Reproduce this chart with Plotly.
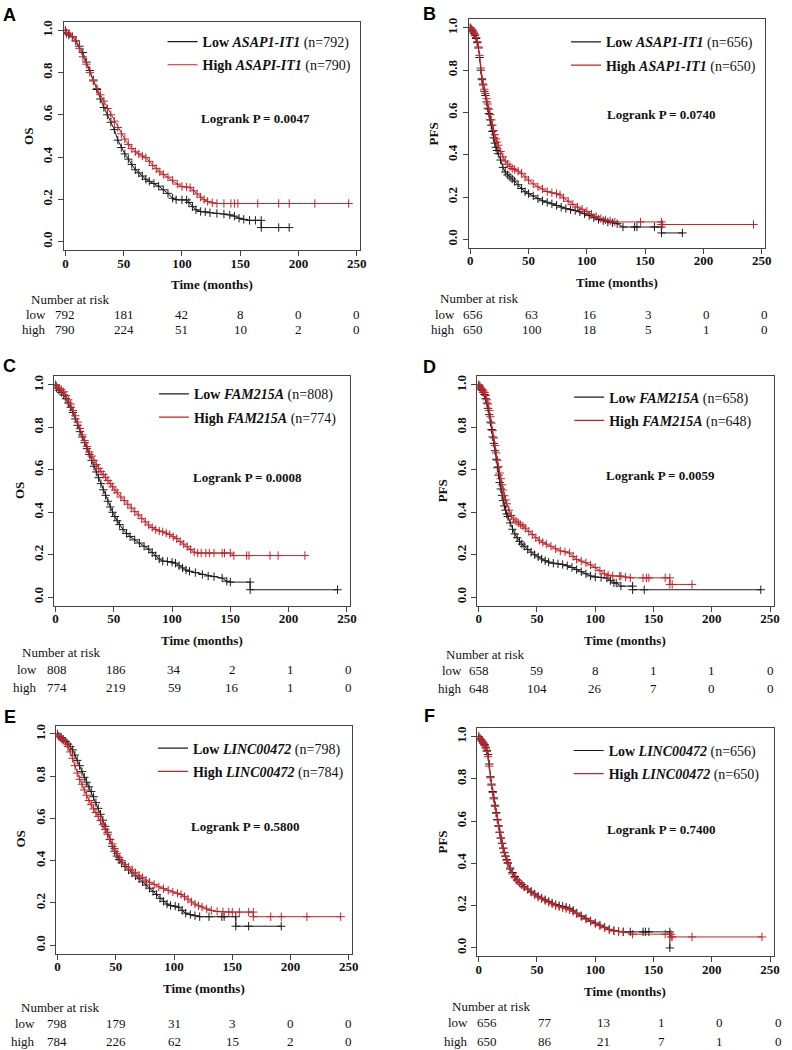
import plotly.graph_objects as go

W, H = 792, 1050

RISK_TIMES = [0, 50, 100, 150, 200, 250]
X_TICKS = [0, 50, 100, 150, 200, 250]
Y_TICKS = [0.0, 0.2, 0.4, 0.6, 0.8, 1.0]

# ---------------- Panel A (OS, ASAP1-IT1) ----------------
A_LOW_T = [0, 1, 3, 6, 9, 12, 15, 18, 21, 24, 27, 30, 33, 36, 39, 42, 45, 48, 51, 54, 57, 60, 63, 66, 69, 72, 76, 80,
           84, 88, 92, 95, 100, 104, 106, 109, 112, 116, 120, 124, 130, 136, 141, 145, 149, 153, 158, 163, 168, 168,
           183, 192]
A_LOW_S = [1.0, 0.985, 0.978, 0.97, 0.95, 0.925, 0.895, 0.85, 0.81, 0.765, 0.72, 0.675, 0.635, 0.60, 0.565, 0.53, 0.48,
           0.445, 0.415, 0.39, 0.365, 0.34, 0.325, 0.31, 0.295, 0.285, 0.275, 0.262, 0.245, 0.228, 0.205, 0.198, 0.197,
           0.197, 0.185, 0.165, 0.15, 0.142, 0.14, 0.136, 0.133, 0.13, 0.126, 0.12, 0.11, 0.105, 0.10, 0.10, 0.10,
           0.066, 0.066, 0.066]
A_HIGH_T = [0, 1, 3, 6, 9, 12, 15, 18, 21, 24, 27, 30, 33, 36, 39, 42, 45, 48, 51, 54, 57, 60, 63, 66, 69, 72, 75, 78,
            81, 84, 88, 92, 96, 100, 104, 107, 110, 113, 116, 119, 122, 126, 130, 136, 142, 145, 148, 165, 183, 192,
            214, 243]
A_HIGH_S = [1.0, 0.99, 0.985, 0.97, 0.95, 0.915, 0.875, 0.84, 0.80, 0.76, 0.725, 0.695, 0.665, 0.63, 0.60, 0.57, 0.54,
            0.51, 0.485, 0.46, 0.44, 0.425, 0.415, 0.405, 0.397, 0.38, 0.36, 0.345, 0.33, 0.318, 0.305, 0.29, 0.272,
            0.26, 0.258, 0.255, 0.24, 0.225, 0.21, 0.198, 0.19, 0.183, 0.18, 0.18, 0.18, 0.18, 0.18, 0.18, 0.18, 0.18,
            0.18, 0.18]
A_RISK_LOW = [792, 181, 42, 8, 0, 0]
A_RISK_HIGH = [790, 224, 51, 10, 2, 0]

# ---------------- Panel B (PFS, ASAP1-IT1) ----------------
B_LOW_T = [0, 1, 2, 3, 4, 5, 6, 7, 8, 9, 10, 11, 12, 13, 14, 15, 16, 17, 18, 19, 20, 21, 22, 23, 24, 26, 28, 30, 32,
           34, 36, 38, 41, 44, 47, 50, 54, 58, 62, 66, 70, 74, 78, 82, 86, 90, 94, 98, 102, 106, 110, 114, 118, 122,
           126, 131, 141, 143, 158, 164, 164, 182]
B_LOW_S = [1.0, 0.99, 0.985, 0.975, 0.965, 0.95, 0.93, 0.905, 0.86, 0.80, 0.755, 0.73, 0.70, 0.68, 0.65, 0.62, 0.595,
           0.565, 0.54, 0.51, 0.48, 0.455, 0.435, 0.42, 0.405, 0.375, 0.34, 0.318, 0.305, 0.295, 0.285, 0.275, 0.258,
           0.24, 0.225, 0.216, 0.205, 0.192, 0.182, 0.175, 0.168, 0.16, 0.152, 0.145, 0.14, 0.136, 0.13, 0.121, 0.112,
           0.102, 0.094, 0.088, 0.082, 0.078, 0.074, 0.058, 0.058, 0.058, 0.058, 0.058, 0.03, 0.03]
B_HIGH_T = [0, 1, 2, 3, 4, 5, 6, 7, 8, 9, 10, 11, 12, 13, 14, 15, 16, 17, 18, 19, 20, 21, 22, 23, 24, 26, 28, 30, 32,
            34, 36, 38, 41, 44, 47, 50, 54, 58, 62, 66, 70, 74, 77, 80, 84, 88, 92, 96, 100, 104, 108, 112, 116, 120,
            124, 146, 164, 164, 165, 243]
B_HIGH_S = [1.0, 0.995, 0.99, 0.98, 0.97, 0.955, 0.935, 0.91, 0.87, 0.81, 0.76, 0.735, 0.71, 0.69, 0.665, 0.64, 0.615,
            0.59, 0.565, 0.54, 0.515, 0.495, 0.475, 0.46, 0.445, 0.415, 0.39, 0.37, 0.355, 0.345, 0.335, 0.33, 0.322,
            0.312, 0.295, 0.28, 0.262, 0.248, 0.238, 0.226, 0.22, 0.216, 0.21, 0.196, 0.18, 0.165, 0.152, 0.142, 0.132,
            0.118, 0.107, 0.098, 0.092, 0.087, 0.082, 0.082, 0.082, 0.07, 0.07, 0.07]
B_RISK_LOW = [656, 63, 16, 3, 0, 0]
B_RISK_HIGH = [650, 100, 18, 5, 1, 0]

# ---------------- Panel C (OS, FAM215A) ----------------
C_LOW_T = [0, 1, 3, 5, 7, 9, 11, 13, 15, 17, 19, 21, 23, 25, 27, 29, 31, 33, 35, 37, 39, 41, 43, 45, 47, 49, 51, 53,
           55, 58, 61, 64, 68, 72, 76, 80, 83, 86, 89, 92, 96, 100, 103, 106, 109, 112, 115, 120, 126, 131, 136, 143,
           147, 150, 167, 167, 242]
C_LOW_S = [1.0, 0.985, 0.975, 0.965, 0.953, 0.935, 0.915, 0.895, 0.87, 0.84, 0.81, 0.78, 0.755, 0.728, 0.70, 0.673,
           0.645, 0.617, 0.59, 0.563, 0.535, 0.506, 0.48, 0.452, 0.425, 0.40, 0.38, 0.36, 0.342, 0.318, 0.30, 0.286,
           0.27, 0.255, 0.24, 0.226, 0.21, 0.195, 0.18, 0.17, 0.168, 0.165, 0.16, 0.148, 0.138, 0.128, 0.122, 0.116,
           0.107, 0.10, 0.097, 0.09, 0.075, 0.071, 0.071, 0.035, 0.035]
C_HIGH_T = [0, 1, 3, 5, 7, 9, 11, 13, 15, 17, 19, 21, 23, 25, 27, 29, 31, 33, 35, 37, 39, 41, 43, 45, 47, 49, 51, 53,
            56, 59, 62, 65, 68, 71, 74, 77, 80, 83, 86, 89, 92, 95, 98, 101, 104, 107, 110, 113, 116, 119, 122, 125,
            129, 132, 136, 143, 145, 150, 153, 164, 166, 184, 191, 214]
C_HIGH_S = [1.0, 0.995, 0.985, 0.978, 0.968, 0.95, 0.93, 0.91, 0.88, 0.855, 0.825, 0.795, 0.765, 0.738, 0.71, 0.685,
            0.665, 0.645, 0.625, 0.607, 0.592, 0.578, 0.565, 0.55, 0.535, 0.52, 0.505, 0.492, 0.472, 0.455, 0.438, 0.42,
            0.403, 0.388, 0.37, 0.355, 0.34, 0.328, 0.318, 0.312, 0.308, 0.302, 0.295, 0.285, 0.276, 0.262, 0.25, 0.238,
            0.225, 0.212, 0.208, 0.208, 0.208, 0.208, 0.208, 0.208, 0.208, 0.208, 0.196, 0.196, 0.196, 0.196, 0.196,
            0.196]
C_RISK_LOW = [808, 186, 34, 2, 1, 0]
C_RISK_HIGH = [774, 219, 59, 16, 1, 0]

# ---------------- Panel D (PFS, FAM215A) ----------------
D_LOW_T = [0, 1, 2, 3, 4, 5, 6, 7, 8, 9, 10, 11, 12, 13, 14, 15, 16, 17, 18, 19, 20, 21, 22, 23, 24, 25, 27, 29, 31,
           33, 35, 37, 39, 42, 45, 48, 51, 54, 57, 60, 64, 68, 72, 76, 80, 84, 88, 92, 96, 100, 105, 110, 113, 116,
           118, 122, 132, 132, 142, 242]
D_LOW_S = [1.0, 0.99, 0.98, 0.975, 0.965, 0.955, 0.935, 0.915, 0.89, 0.86, 0.825, 0.79, 0.755, 0.725, 0.69, 0.65, 0.61,
           0.575, 0.54, 0.51, 0.48, 0.455, 0.43, 0.41, 0.392, 0.38, 0.35, 0.32, 0.298, 0.28, 0.263, 0.25, 0.24, 0.225,
           0.212, 0.2, 0.19, 0.18, 0.172, 0.165, 0.16, 0.157, 0.154, 0.148, 0.14, 0.13, 0.12, 0.11, 0.10, 0.095, 0.093,
           0.09, 0.078, 0.067, 0.067, 0.052, 0.052, 0.035, 0.035, 0.035]
D_HIGH_T = [0, 1, 2, 3, 4, 5, 6, 7, 8, 9, 10, 11, 12, 13, 14, 15, 16, 17, 18, 19, 20, 21, 22, 23, 24, 26, 28, 30, 32,
            34, 36, 38, 40, 43, 46, 49, 52, 55, 58, 62, 66, 70, 74, 78, 81, 84, 88, 92, 96, 100, 104, 108, 111, 115,
            121, 122, 126, 130, 141, 144, 146, 160, 164, 164, 166, 183]
D_HIGH_S = [1.0, 0.995, 0.985, 0.98, 0.972, 0.965, 0.95, 0.93, 0.91, 0.88, 0.85, 0.82, 0.785, 0.75, 0.715, 0.68, 0.645,
            0.615, 0.585, 0.558, 0.53, 0.505, 0.478, 0.458, 0.44, 0.41, 0.385, 0.368, 0.358, 0.35, 0.342, 0.335, 0.325,
            0.31, 0.295, 0.28, 0.268, 0.258, 0.25, 0.24, 0.228, 0.218, 0.214, 0.208, 0.192, 0.178, 0.17, 0.162, 0.152,
            0.14, 0.125, 0.11, 0.104, 0.10, 0.099, 0.099, 0.095, 0.091, 0.091, 0.091, 0.091, 0.091, 0.091, 0.06, 0.06,
            0.06]
D_RISK_LOW = [658, 59, 8, 1, 1, 0]
D_RISK_HIGH = [648, 104, 26, 7, 0, 0]

# ---------------- Panel E (OS, LINC00472) ----------------
E_LOW_T = [0, 1, 3, 5, 7, 9, 11, 13, 15, 17, 19, 21, 23, 25, 27, 29, 31, 33, 35, 37, 39, 41, 43, 45, 47, 49, 51, 53,
           55, 58, 61, 64, 67, 70, 73, 76, 79, 82, 85, 88, 91, 94, 97, 101, 104, 107, 110, 114, 118, 122, 130, 141,
           143, 153, 153, 164, 192]
E_LOW_S = [1.0, 0.99, 0.983, 0.975, 0.965, 0.952, 0.94, 0.925, 0.9, 0.875, 0.85, 0.822, 0.795, 0.772, 0.75, 0.728,
           0.703, 0.675, 0.648, 0.62, 0.592, 0.563, 0.535, 0.5, 0.468, 0.445, 0.422, 0.405, 0.39, 0.372, 0.356, 0.342,
           0.328, 0.315, 0.3, 0.285, 0.27, 0.255, 0.24, 0.222, 0.208, 0.195, 0.188, 0.185, 0.18, 0.165, 0.152, 0.145,
           0.14, 0.135, 0.135, 0.135, 0.135, 0.135, 0.09, 0.09, 0.09]
E_HIGH_T = [0, 1, 3, 5, 7, 9, 11, 13, 15, 17, 19, 21, 23, 25, 27, 29, 31, 33, 35, 37, 39, 41, 43, 45, 47, 49, 51, 53,
            55, 58, 61, 64, 67, 70, 73, 76, 79, 83, 87, 91, 95, 99, 103, 106, 109, 112, 115, 118, 121, 124, 128, 132,
            137, 142, 147, 150, 156, 164, 168, 168, 183, 192, 214, 243]
E_HIGH_S = [1.0, 0.99, 0.98, 0.97, 0.958, 0.94, 0.915, 0.885, 0.85, 0.815, 0.785, 0.762, 0.735, 0.71, 0.685, 0.665,
            0.645, 0.628, 0.61, 0.59, 0.57, 0.548, 0.525, 0.502, 0.48, 0.458, 0.435, 0.415, 0.4, 0.383, 0.37, 0.357,
            0.343, 0.331, 0.32, 0.308, 0.298, 0.288, 0.276, 0.268, 0.26, 0.252, 0.246, 0.24, 0.23, 0.218, 0.205, 0.195,
            0.187, 0.181, 0.172, 0.165, 0.16, 0.158, 0.157, 0.157, 0.157, 0.157, 0.157, 0.135, 0.135, 0.135, 0.135,
            0.135]
E_RISK_LOW = [798, 179, 31, 3, 0, 0]
E_RISK_HIGH = [784, 226, 62, 15, 2, 0]

# ---------------- Panel F (PFS, LINC00472) ----------------
F_LOW_T = [0, 1, 2, 3, 4, 5, 6, 7, 8, 9, 10, 11, 12, 13, 14, 15, 16, 17, 18, 19, 20, 21, 22, 23, 24, 25, 27, 29, 31,
           33, 35, 37, 39, 42, 45, 48, 51, 54, 57, 60, 63, 66, 69, 72, 75, 78, 81, 84, 88, 92, 96, 100, 104, 108, 112,
           116, 120, 124, 130, 141, 143, 146, 164, 164]
F_LOW_S = [1.0, 0.99, 0.985, 0.978, 0.97, 0.962, 0.95, 0.935, 0.915, 0.87, 0.81, 0.775, 0.74, 0.71, 0.675, 0.64, 0.608,
           0.578, 0.548, 0.52, 0.495, 0.472, 0.452, 0.435, 0.418, 0.403, 0.378, 0.357, 0.338, 0.322, 0.31, 0.3, 0.29,
           0.279, 0.268, 0.256, 0.245, 0.236, 0.228, 0.22, 0.212, 0.205, 0.2, 0.197, 0.193, 0.187, 0.178, 0.165, 0.152,
           0.14, 0.128, 0.118, 0.108, 0.098, 0.088, 0.082, 0.078, 0.076, 0.076, 0.076, 0.076, 0.076, 0.076, 0.0]
F_HIGH_T = [0, 1, 2, 3, 4, 5, 6, 7, 8, 9, 10, 11, 12, 13, 14, 15, 16, 17, 18, 19, 20, 21, 22, 23, 24, 25, 27, 29, 31,
            33, 35, 37, 39, 42, 45, 48, 51, 54, 57, 60, 63, 66, 69, 72, 75, 78, 81, 84, 88, 92, 96, 100, 104, 108, 112,
            116, 120, 124, 132, 160, 165, 165, 166, 183, 243]
F_HIGH_S = [1.0, 0.992, 0.985, 0.976, 0.968, 0.958, 0.945, 0.93, 0.905, 0.86, 0.805, 0.77, 0.735, 0.705, 0.67, 0.637,
            0.605, 0.575, 0.546, 0.52, 0.495, 0.472, 0.45, 0.432, 0.415, 0.4, 0.372, 0.35, 0.332, 0.318, 0.307, 0.298,
            0.288, 0.276, 0.263, 0.25, 0.24, 0.232, 0.224, 0.216, 0.208, 0.2, 0.195, 0.19, 0.186, 0.18, 0.173, 0.162,
            0.148, 0.136, 0.125, 0.115, 0.105, 0.095, 0.086, 0.08, 0.078, 0.076, 0.065, 0.065, 0.065, 0.052, 0.052,
            0.052, 0.052]
F_RISK_LOW = [656, 77, 13, 1, 0, 0]
F_RISK_HIGH = [650, 86, 21, 7, 1, 0]

PANELS = [
    dict(key="A", endpoint="OS", gene_low="ASAP1-IT1", gene_high="ASAPI-IT1", n_low=792, n_high=790, p="0.0047",
         low_t=A_LOW_T, low_s=A_LOW_S, high_t=A_HIGH_T, high_s=A_HIGH_S, risk_low=A_RISK_LOW, risk_high=A_RISK_HIGH),
    dict(key="B", endpoint="PFS", gene_low="ASAP1-IT1", gene_high="ASAP1-IT1", n_low=656, n_high=650, p="0.0740",
         low_t=B_LOW_T, low_s=B_LOW_S, high_t=B_HIGH_T, high_s=B_HIGH_S, risk_low=B_RISK_LOW, risk_high=B_RISK_HIGH),
    dict(key="C", endpoint="OS", gene_low="FAM215A", gene_high="FAM215A", n_low=808, n_high=774, p="0.0008",
         low_t=C_LOW_T, low_s=C_LOW_S, high_t=C_HIGH_T, high_s=C_HIGH_S, risk_low=C_RISK_LOW, risk_high=C_RISK_HIGH),
    dict(key="D", endpoint="PFS", gene_low="FAM215A", gene_high="FAM215A", n_low=658, n_high=648, p="0.0059",
         low_t=D_LOW_T, low_s=D_LOW_S, high_t=D_HIGH_T, high_s=D_HIGH_S, risk_low=D_RISK_LOW, risk_high=D_RISK_HIGH),
    dict(key="E", endpoint="OS", gene_low="LINC00472", gene_high="LINC00472", n_low=798, n_high=784, p="0.5800",
         low_t=E_LOW_T, low_s=E_LOW_S, high_t=E_HIGH_T, high_s=E_HIGH_S, risk_low=E_RISK_LOW, risk_high=E_RISK_HIGH),
    dict(key="F", endpoint="PFS", gene_low="LINC00472", gene_high="LINC00472", n_low=656, n_high=650, p="0.7400",
         low_t=F_LOW_T, low_s=F_LOW_S, high_t=F_HIGH_T, high_s=F_HIGH_S, risk_low=F_RISK_LOW, risk_high=F_RISK_HIGH),
]

# ---------------- layout geometry (pixels) ----------------
# box: left, right, top, bottom ; leg: legend text x, first row y ; lr: logrank centre ; tag: letter centre
# risk: "Number at risk" x, y, row-label right x, low-row y, high-row y ; rshift: risk-number x shift
GEOM = {
    "A": dict(box=(63.2, 362.5, 20.0, 248.4), leg=(203, 42), lr=(256.7, 116.7), tag=(9, 13),
              risk=(28, 298, 47, 313, 328), rshift=0),
    "B": dict(box=(471.7, 771.0, 17.5, 246.2), leg=(610, 42.3), lr=(666.7, 112.7), tag=(432, 12),
              risk=(440.7, 297, 460, 313, 328), rshift=3),
    "C": dict(box=(53.2, 352.5, 375.2, 604.8), leg=(194.3, 395), lr=(249.2, 476.7), tag=(9, 365),
              risk=(19.3, 652, 38, 669, 687), rshift=2),
    "D": dict(box=(480.2, 779.5, 375.2, 604.8), leg=(613.3, 398.3), lr=(665.8, 474), tag=(432, 366),
              risk=(446.7, 654, 466.7, 670, 688), rshift=0),
    "E": dict(box=(55.2, 354.5, 724.9, 953.5), leg=(193.3, 750), lr=(246.7, 826), tag=(9, 716),
              risk=(18.3, 1007, 36.7, 1023, 1041), rshift=0),
    "F": dict(box=(480.2, 779.5, 727.5, 956.2), leg=(612.7, 752.3), lr=(666.7, 829), tag=(432, 715),
              risk=(453.3, 1006, 472.7, 1022, 1041), rshift=8),
}

BLACK = "#1c1c1c"
RED = "#c4242b"
AXIS = "#444444"
SERIF = "Liberation Serif"
SANS = "Liberation Sans"


def px(x):
    return x / W


def py(y):
    return 1 - y / H


fig = go.Figure()
annotations = []
layout_extra = {}

for i, p in enumerate(PANELS):
    n = i + 1
    sfx = "" if n == 1 else str(n)
    xa, ya, lg = "x" + sfx, "y" + sfx, "legend" + sfx
    g = GEOM[p["key"]]
    L, R, T, B = g["box"]

    for t, s, col in ((p["low_t"], p["low_s"], BLACK), (p["high_t"], p["high_s"], RED)):
        fig.add_trace(go.Scatter(
            x=t, y=s, mode="lines+markers", xaxis=xa, yaxis=ya, showlegend=False, hoverinfo="skip",
            line=dict(color=col, width=1),
            marker=dict(symbol="cross-thin", size=6, color=col, line=dict(color=col, width=1)),
        ))
    fig.add_trace(go.Scatter(
        x=[None], y=[None], mode="lines", xaxis=xa, yaxis=ya, legend=lg, legendgroup=p["key"] + "low",
        line=dict(color=BLACK, width=1.2),
        name=f"<b>Low <i>{p['gene_low']}</i></b> (n={p['n_low']})"))
    fig.add_trace(go.Scatter(
        x=[None], y=[None], mode="lines", xaxis=xa, yaxis=ya, legend=lg, legendgroup=p["key"] + "high",
        line=dict(color=RED, width=1.2),
        name=f"<b>High <i>{p['gene_high']}</i></b> (n={p['n_high']})"))

    layout_extra["xaxis" + sfx] = dict(
        domain=[px(L), px(R)], anchor=ya, range=[-1.5, 253], tickvals=X_TICKS,
        showgrid=False, zeroline=False, showline=True, mirror=True, linecolor=AXIS, linewidth=1,
        ticks="outside", ticklen=5, tickcolor=AXIS, ticklabelstandoff=-4,
        tickfont=dict(family=SERIF, size=13, color="#111", weight="bold"))
    layout_extra["yaxis" + sfx] = dict(
        domain=[py(B), py(T)], anchor=xa, range=[-0.04, 1.04], tickvals=Y_TICKS, tickformat=".1f",
        tickangle=-90, showgrid=False, zeroline=False, showline=True, mirror=True, linecolor=AXIS, linewidth=1,
        ticks="outside", ticklen=5, tickcolor=AXIS,
        tickfont=dict(family=SERIF, size=13, color="#111", weight="bold"))

    tx, ty = g["leg"]
    layout_extra[lg] = dict(
        x=px(tx - 40), y=py(ty - 18), xanchor="left", yanchor="top", xref="paper", yref="paper",
        bgcolor="rgba(0,0,0,0)", borderwidth=0, itemwidth=30, traceorder="grouped", tracegroupgap=2,
        font=dict(family=SERIF, size=14, color="#111"))

    annotations.append(dict(x=px((L + R) / 2), y=py(B + 35), xref="paper", yref="paper", showarrow=False,
                            text="<b>Time (months)</b>", font=dict(family=SERIF, size=13, color="#111"),
                            xanchor="center", yanchor="middle"))
    annotations.append(dict(x=px(L - 35), y=py((T + B) / 2), xref="paper", yref="paper", showarrow=False,
                            text=f"<b>{p['endpoint']}</b>", textangle=-90,
                            font=dict(family=SERIF, size=13, color="#111"), xanchor="center", yanchor="middle"))
    lx, ly = g["lr"]
    annotations.append(dict(x=px(lx), y=py(ly), xref="paper", yref="paper", showarrow=False,
                            text=f"<b>Logrank P = {p['p']}</b>", font=dict(family=SERIF, size=13, color="#111"),
                            xanchor="center", yanchor="middle"))
    gx, gy = g["tag"]
    annotations.append(dict(x=px(gx), y=py(gy), xref="paper", yref="paper", showarrow=False,
                            text=f"<b>{p['key']}</b>", font=dict(family=SANS, size=18, color="#000"),
                            xanchor="center", yanchor="middle"))
    nx, ny, rx, lowy, highy = g["risk"]
    annotations.append(dict(x=px(nx), y=py(ny), xref="paper", yref="paper", showarrow=False,
                            text="Number at risk", font=dict(family=SERIF, size=13, color="#111"),
                            xanchor="left", yanchor="middle"))
    for lab, yy, vals in (("low", lowy, p["risk_low"]), ("high", highy, p["risk_high"])):
        annotations.append(dict(x=px(rx), y=py(yy), xref="paper", yref="paper", showarrow=False,
                                text=lab, font=dict(family=SERIF, size=13, color="#111"),
                                xanchor="right", yanchor="middle"))
        for t, v in zip(RISK_TIMES, vals):
            annotations.append(dict(x=t, y=py(yy), xref=xa, yref="paper", showarrow=False, xshift=g["rshift"],
                                    text=str(v), font=dict(family=SERIF, size=13, color="#111"),
                                    xanchor="center", yanchor="middle"))

fig.update_layout(
    width=W, height=H, margin=dict(l=0, r=0, t=0, b=0),
    paper_bgcolor="white", plot_bgcolor="white",
    annotations=annotations, **layout_extra)

fig.write_html("out.html", config={"displayModeBar": False},
               post_script="document.body.style.margin='0px';")
